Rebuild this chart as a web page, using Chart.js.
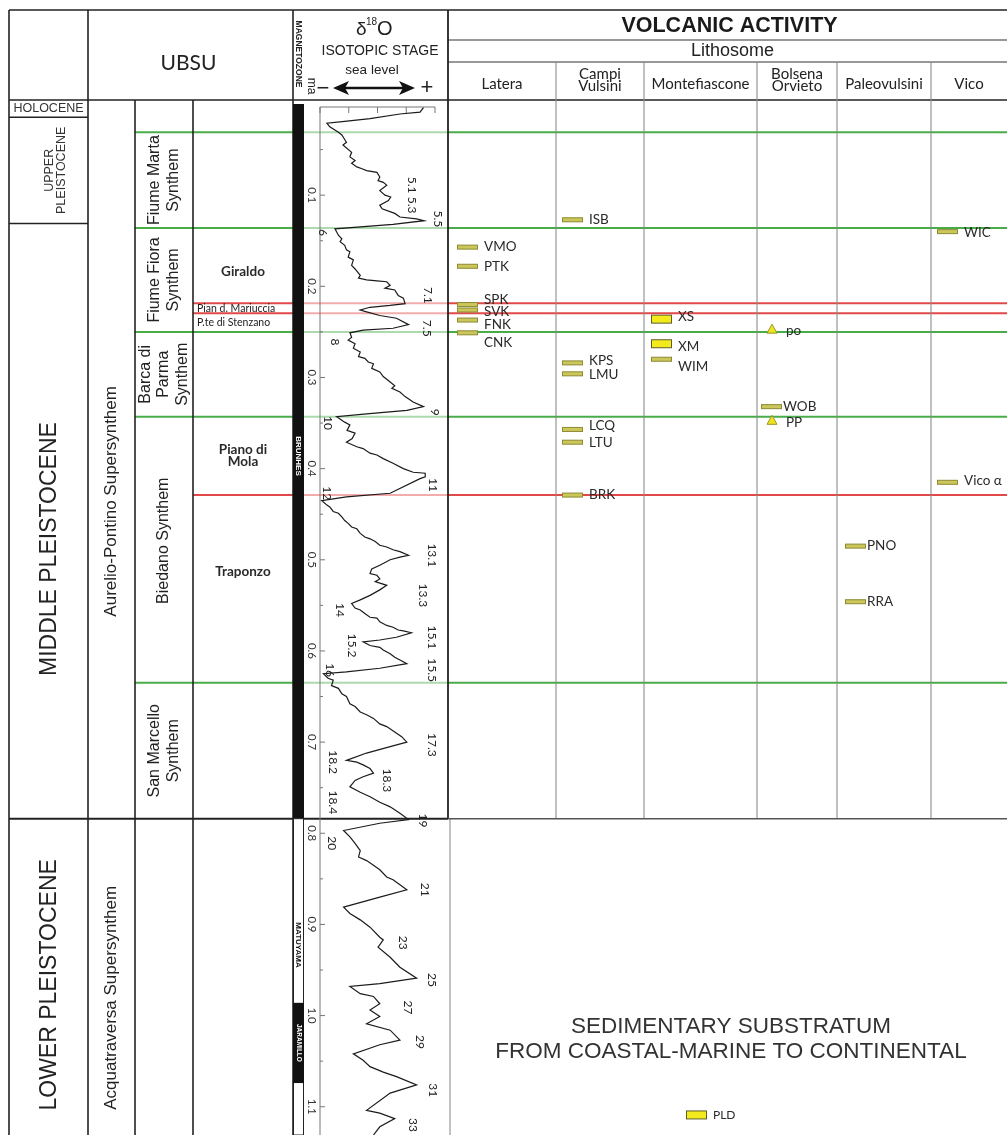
<!DOCTYPE html>
<html>
<head>
<meta charset="utf-8">
<script src="https://cdn.jsdelivr.net/npm/chart.js@4.4.1/dist/chart.umd.min.js"></script>
<style>
html, body { margin: 0; padding: 0; background: #fff; }
canvas { display: block; }
</style>
</head>
<body>
<canvas id="myChart" width="1007" height="1135"></canvas>
<script>
// delta 18O curve, age in Ma and value in permil
var isoAge = [0.004,0.009,0.011,0.016,0.019,0.021,0.025,0.031,0.034,0.042,0.045,0.053,0.058,0.062,0.065,0.069,0.071,0.073,0.075,0.080,0.084,0.086,0.089,0.095,0.100,0.102,0.106,0.111,0.115,0.120,0.124,0.126,0.128,0.132,0.137,
  0.144,0.148,0.151,0.155,0.160,0.162,0.168,0.171,0.177,0.181,0.188,0.191,0.193,0.194,0.195,0.199,0.202,0.204,0.210,0.213,0.219,0.221,0.223,0.226,0.228,0.232,0.235,0.242,0.246,0.248,0.251,
  0.256,0.259,0.263,0.268,0.272,0.277,0.279,0.283,0.285,0.290,0.294,0.299,0.305,0.309,0.312,0.316,0.321,0.327,0.332,0.336,0.340,0.343,
  0.349,0.352,0.358,0.361,0.367,0.371,0.376,0.378,0.383,0.385,0.389,0.394,0.400,0.404,0.405,0.409,0.411,0.427,0.431,0.435,
  0.440,0.442,0.447,0.449,0.453,0.457,0.460,0.464,0.466,0.471,0.475,0.477,0.480,0.484,0.486,0.489,0.491,0.495,0.497,0.500,0.506,0.510,0.515,0.517,0.521,0.524,0.528,0.533,0.539,0.544,0.548,
  0.553,0.555,0.559,0.563,0.564,0.568,0.572,0.574,0.577,0.578,0.580,0.585,0.588,0.590,0.594,0.596,0.599,0.603,0.607,0.610,0.614,0.619,0.623,0.625,
  0.630,0.632,0.638,0.641,0.647,0.650,0.658,0.661,0.667,0.670,0.674,0.680,0.683,0.689,0.694,0.700,0.705,0.712,0.720,0.722,0.725,0.729,0.734,0.738,0.742,0.749,0.755,0.760,0.766,0.771,0.778,0.785,
  0.789,0.797,0.804,0.811,0.819,0.826,0.830,0.835,0.840,0.848,0.851,0.855,0.862,0.870,0.881,0.888,0.895,0.903,0.914,0.917,0.925,0.936,0.947,0.959,0.965,0.968,0.976,0.979,0.987,0.994,1.001,1.009,1.016,1.027,1.032,1.042,1.049,1.056,1.062,1.067,1.076,1.085,1.104,1.107,1.113,1.122,1.131];
var isoD18O = [3.20,3.26,3.61,4.13,4.57,4.88,4.83,4.68,4.62,4.54,4.60,4.45,4.48,4.39,4.45,4.36,4.27,4.19,4.01,3.96,3.99,3.90,3.84,3.96,3.87,3.77,3.81,3.96,3.92,3.70,3.61,3.32,3.19,3.73,4.74,
  4.68,4.62,4.65,4.57,4.54,4.48,4.51,4.42,4.45,4.39,4.30,4.33,4.19,4.01,3.84,3.78,3.87,3.70,3.64,3.55,3.52,3.78,4.13,4.30,4.19,3.96,3.67,3.46,3.73,4.25,4.48,
  4.45,4.51,4.39,4.42,4.30,4.33,4.22,4.16,4.07,4.10,3.96,3.90,3.78,3.70,3.75,3.61,3.52,3.38,3.20,3.49,4.19,4.71,
  4.57,4.48,4.53,4.39,4.44,4.54,4.36,4.25,4.13,4.01,3.90,3.73,3.55,3.38,3.17,3.17,3.26,3.78,4.54,4.97,
  4.88,4.83,4.77,4.68,4.62,4.57,4.51,4.45,4.36,4.30,4.22,4.13,4.04,3.96,3.84,3.73,3.61,3.46,3.61,3.78,3.96,4.10,4.13,4.01,3.96,4.04,3.84,3.96,4.13,4.30,4.45,
  4.39,4.30,4.22,4.13,4.01,3.96,3.84,3.73,3.64,3.55,3.41,3.67,3.96,4.25,4.13,3.96,3.90,3.78,3.70,3.61,3.49,3.96,4.54,4.94,
  4.86,4.77,4.80,4.68,4.62,4.54,4.48,4.39,4.30,4.19,4.07,3.96,3.84,3.70,3.58,3.49,3.78,4.19,4.54,4.36,4.25,4.13,4.07,4.25,4.39,4.48,4.30,4.13,3.96,3.78,3.61,3.46,
  3.96,4.59,4.48,4.39,4.30,4.33,4.19,4.07,3.96,3.84,3.73,3.64,3.49,3.96,4.59,4.48,4.30,4.13,3.96,3.90,3.99,3.78,3.61,3.32,3.96,4.48,4.30,4.07,3.96,4.13,3.96,4.19,3.78,3.61,3.96,4.42,4.25,4.13,3.90,3.67,3.32,3.78,4.19,3.96,3.70,3.96,4.07];

// marine isotope stage labels
var stageNames = ['5.1','5.3','5.5','6','7.1','7.5','8','9','10','11','12','13.1','13.3','14','15.1','15.2','15.5','16','17.3','18.2','18.3','18.4','19','20','21','23','25','27','29','31','33'];
var stageAges = [0.089,0.111,0.126,0.141,0.210,0.246,0.261,0.338,0.350,0.418,0.427,0.495,0.539,0.555,0.585,0.594,0.621,0.621,0.703,0.722,0.742,0.766,0.786,0.811,0.862,0.920,0.961,0.991,1.029,1.082,1.120];

// age axis labels
var ageTicks = [0.1,0.2,0.3,0.4,0.5,0.6,0.7,0.8,0.9,1.0,1.1];
var ageTickLabels = ['0.1','0.2','0.3','0.4','0.5','0.6','0.7','0.8','0.9','1.0','1.1'];

// chronostratigraphy
var epochNames = ['HOLOCENE','UPPER\nPLEISTOCENE','MIDDLE PLEISTOCENE','LOWER PLEISTOCENE'];
var epochBase = [0.0145, 0.131, 0.784, 1.131];

// UBSU
var superNames = ['Aurelio-Pontino Supersynthem','Acquatraversa Supersynthem'];
var superBase = [0.784, 1.131];
var synthemNames = ['Fiume Marta\nSynthem','Fiume Fiora\nSynthem','Barca di\nParma\nSynthem','Biedano Synthem','San Marcello\nSynthem'];
var synthemTop = [0.031, 0.136, 0.250, 0.343, 0.635];
var synthemBase = [0.136, 0.250, 0.343, 0.635, 0.784];
var subNames = ['Giraldo','Pian d. Mariuccia','P.te di Stenzano','Piano di\nMola','Traponzo'];
var subTop = [0.136, 0.2185, 0.2295, 0.343, 0.429];
var subBase = [0.2185, 0.2295, 0.250, 0.429, 0.635];
var greenLines = [0.031, 0.136, 0.250, 0.343, 0.635];
var redLines = [0.2185, 0.2295, 0.429];

// magnetozones
var chronNames = ['BRUNHES','MATUYAMA','JARAMILLO'];
var chronTop = [0, 0.784, 0.986];
var chronBase = [0.784, 1.131, 1.074];
var chronNormal = [true, false, true];

// volcanic units
var lithosomes = ['Latera','Campi\nVulsini','Montefiascone','Bolsena\nOrvieto','Paleovulsini','Vico'];
var unitNames = ['ISB','VMO','PTK','SPK','SVK','FNK','CNK','XS','XM','WIM','KPS','LMU','po','WOB','PP','LCQ','LTU','BRK','WIC','Vico α','PNO','RRA','PLD'];
var unitLithosome = [1,0,0,0,0,0,0,2,2,2,1,1,3,3,3,1,1,1,5,5,4,4,2];
var unitAges = [0.127,0.157,0.178,0.220,0.226,0.237,0.251,0.236,0.263,0.280,0.284,0.296,0.247,0.332,0.347,0.357,0.371,0.429,0.140,0.415,0.485,0.546,1.109];
var unitKind = ['bar','bar','bar','bar','bar','bar','bar','box','box','bar','bar','bar','tri','bar','tri','bar','bar','bar','bar','bar','bar','bar','box'];

// page layout
var L = { left: 9, epochR: 88, superR: 135, synR: 193, subR: 293, magR: 304, boxL: 320, boxR: 435, volL: 448,
  right: 1007, top: 10, headB: 100, volRow1: 40, volRow2: 62, boxTop: 107,
  volEdges: [448, 556, 644, 757, 837, 931, 1007] };
var colPad = [9, 6, 7, 4, 8, 6];
var unitNudge = { SPK: -5, SVK: 2, FNK: 5, CNK: 10, XS: -2, XM: 3, WIM: 7, KPS: -2, LMU: 1, po: 1, PP: 2, LCQ: -4, WIC: 1, 'Vico α': -2 };
var unitXNudge = { WOB: -5, PNO: -5, RRA: -5 };
var stageLabelX = [412,412,438,323,428,427,335,435,328,433,327,432,423,340,432,352,432,330,432,333,387,333,423,332,425,403,432,408,420,433,413];
var epochNudge = [0, 0, 28, 8];
var superNudge = [42, 21];
var synthemNudge = [0, 0, 0, -9, 0];
var subNudge = [6, 0, 0, 0, -17];

var GREEN = 'rgb(72,172,72)';
var RED = 'rgb(226,72,72)';
var ARIAL = "'Liberation Sans', Arial, sans-serif";
var MYRIAD = "Lato, 'Open Sans', sans-serif";

function txt(ctx, s, x, y, font, rot, color, lh, align) {
  var lines = s.split('\n');
  ctx.save();
  ctx.translate(x, y);
  if (rot) ctx.rotate(rot);
  ctx.font = font;
  ctx.fillStyle = color || '#222';
  ctx.textAlign = align || 'center';
  ctx.textBaseline = 'middle';
  for (var i = 0; i < lines.length; i++) {
    ctx.fillText(lines[i], 0, (i - (lines.length - 1) / 2) * (lh || 0));
  }
  ctx.restore();
}

function hline(ctx, x1, x2, y, color, w) {
  ctx.beginPath();
  ctx.strokeStyle = color;
  ctx.lineWidth = w;
  ctx.moveTo(x1, y);
  ctx.lineTo(x2, y);
  ctx.stroke();
}

function vline(ctx, x, y1, y2, color, w) {
  ctx.beginPath();
  ctx.strokeStyle = color;
  ctx.lineWidth = w;
  ctx.moveTo(x, y1);
  ctx.lineTo(x, y2);
  ctx.stroke();
}

var tablePlugin = {
  id: 'stratTable',
  beforeDatasetsDraw: function (chart) {
    var ctx = chart.ctx;
    var ys = chart.scales.y, xs = chart.scales.x;
    var Y = function (a) { return ys.getPixelForValue(a); };
    var i;
    ctx.save();

    // unit boundaries
    greenLines.forEach(function (a) {
      var y = Y(a);
      hline(ctx, L.superR, L.subR, y, GREEN, 2);
      hline(ctx, L.subR, L.volL, y, 'rgba(72,172,72,0.45)', 2);
      hline(ctx, L.volL, L.right, y, GREEN, 2);
    });
    redLines.forEach(function (a) {
      var y = Y(a);
      hline(ctx, L.synR, L.subR, y, RED, 2);
      hline(ctx, L.subR, L.volL, y, 'rgba(226,72,72,0.45)', 2);
      hline(ctx, L.volL, L.right, y, RED, 2);
    });

    // frame
    var base = Y(epochBase[2]);
    hline(ctx, L.left, L.right, L.top, '#222', 1.5);
    hline(ctx, L.left, L.right, L.headB, '#222', 1.5);
    hline(ctx, L.volL, L.right, L.volRow1, '#333', 1.2);
    hline(ctx, L.volL, L.right, L.volRow2, '#333', 1.2);
    vline(ctx, L.left, L.top, 1135, '#222', 1.6);
    vline(ctx, L.epochR, L.top, 1135, '#222', 1.6);
    vline(ctx, L.superR, L.headB, 1135, '#222', 1.6);
    vline(ctx, L.synR, L.headB, 1135, '#222', 1.6);
    vline(ctx, L.subR, L.top, 1135, '#222', 1.6);
    vline(ctx, L.volL, L.top, base, '#222', 1.8);
    vline(ctx, L.volL + 2, base, 1135, '#999', 1.2);
    for (i = 1; i < L.volEdges.length - 1; i++) vline(ctx, L.volEdges[i], L.volRow2, base, '#8c8c8c', 1.1);
    for (i = 0; i < 2; i++) hline(ctx, L.left, L.epochR, Y(epochBase[i]), '#222', 1.5);
    hline(ctx, L.left, L.volL, base, '#222', 2);
    hline(ctx, L.volL, L.right, base, '#555', 1.5);

    // header
    txt(ctx, 'UBSU', (L.epochR + L.subR) / 2 - 2, 63, '21px ' + MYRIAD, 0, '#222');
    txt(ctx, 'MAGNETOZONE', 298.5, 54, 'bold 8.5px ' + ARIAL, Math.PI / 2, '#222');
    txt(ctx, 'ma', 311, 86, '12px ' + ARIAL, Math.PI / 2, '#222');
    ctx.fillStyle = '#222';
    ctx.textBaseline = 'alphabetic';
    ctx.textAlign = 'left';
    ctx.font = '19px ' + ARIAL;
    ctx.fillText('δ', 356, 35);
    ctx.font = '10px ' + ARIAL;
    ctx.fillText('18', 366, 25);
    ctx.font = '20px ' + ARIAL;
    ctx.fillText('O', 377, 35);
    txt(ctx, 'ISOTOPIC STAGE', 380, 51, '14px ' + ARIAL, 0, '#222');
    txt(ctx, 'sea level', 372, 70, '13.5px ' + ARIAL, 0, '#222');
    txt(ctx, '−', 323, 89, '22px ' + ARIAL, 0, '#222');
    txt(ctx, '+', 427, 88, '22px ' + ARIAL, 0, '#222');
    ctx.beginPath();
    ctx.strokeStyle = '#111';
    ctx.lineWidth = 2.5;
    ctx.moveTo(342, 88); ctx.lineTo(404, 88); ctx.stroke();
    ctx.beginPath();
    ctx.fillStyle = '#111';
    ctx.moveTo(333, 88); ctx.lineTo(349, 81); ctx.lineTo(345, 88); ctx.lineTo(349, 95); ctx.closePath(); ctx.fill();
    ctx.beginPath();
    ctx.moveTo(415, 88); ctx.lineTo(399, 81); ctx.lineTo(403, 88); ctx.lineTo(399, 95); ctx.closePath(); ctx.fill();

    txt(ctx, 'VOLCANIC ACTIVITY', (L.volL + L.right) / 2 + 2, 26, 'bold 21.5px ' + ARIAL, 0, '#1a1a1a');
    txt(ctx, 'Lithosome', (L.volL + L.right) / 2 + 5, 51, '18px ' + ARIAL, 0, '#222');
    for (i = 0; i < lithosomes.length; i++) {
      var cx = (L.volEdges[i] + L.volEdges[i + 1]) / 2;
      txt(ctx, lithosomes[i], cx, lithosomes[i].indexOf('\n') > 0 ? 80 : 84, '15px ' + MYRIAD, 0, '#222', 12);
    }

    // epochs
    for (i = 0; i < epochNames.length; i++) {
      var top = i === 0 ? L.headB : Y(epochBase[i - 1]);
      var cy = (top + Y(epochBase[i])) / 2 + epochNudge[i];
      if (i === 0) txt(ctx, epochNames[i], (L.left + L.epochR) / 2, cy, '12.5px ' + ARIAL, 0, '#333');
      else if (i === 1) txt(ctx, epochNames[i], 55.5, cy, '12.5px ' + ARIAL, -Math.PI / 2, '#333', 11.5);
      else txt(ctx, epochNames[i], 50, cy, '23px ' + ARIAL, -Math.PI / 2, '#222');
    }
    // supersynthems
    for (i = 0; i < superNames.length; i++) {
      var t = i === 0 ? L.headB : Y(superBase[i - 1]);
      txt(ctx, superNames[i], 111, (t + Y(superBase[i])) / 2 + superNudge[i], '17px ' + ARIAL, -Math.PI / 2, '#222');
    }
    // synthems
    for (i = 0; i < synthemNames.length; i++) {
      var sy = (Y(synthemTop[i]) + Y(synthemBase[i])) / 2 + synthemNudge[i];
      txt(ctx, synthemNames[i], (L.superR + L.synR) / 2, sy, '16px ' + ARIAL, -Math.PI / 2, '#222', 18.5);
    }
    // subsynthems
    for (i = 0; i < subNames.length; i++) {
      var my = (Y(subTop[i]) + Y(subBase[i])) / 2 + subNudge[i];
      if (i === 1 || i === 2) txt(ctx, subNames[i], L.synR + 4, my, '10.5px ' + MYRIAD, 0, '#222', 0, 'left');
      else txt(ctx, subNames[i], (L.synR + L.subR) / 2, my, 'bold 13.5px ' + MYRIAD, 0, '#2a2a2a', 12.5);
    }

    // magnetozones
    for (i = 0; i < chronNames.length; i++) {
      var y1 = Math.max(Y(chronTop[i]), L.headB + 1), y2 = Y(chronBase[i]);
      ctx.fillStyle = chronNormal[i] ? '#111' : '#fff';
      ctx.fillRect(L.subR, y1, L.magR - L.subR, y2 - y1);
      if (!chronNormal[i]) {
        ctx.strokeStyle = '#222'; ctx.lineWidth = 1;
        ctx.strokeRect(L.subR + 0.5, y1, L.magR - L.subR - 1, y2 - y1);
      }
    }
    txt(ctx, chronNames[0], 298.5, 456, 'bold 8px ' + ARIAL, Math.PI / 2, '#fff');
    txt(ctx, chronNames[1], 298.5, 945, 'bold 8px ' + ARIAL, Math.PI / 2, '#111');
    txt(ctx, chronNames[2], 298.5, (Y(chronTop[2]) + Y(chronBase[2])) / 2, 'bold 6.5px ' + ARIAL, Math.PI / 2, '#fff');

    // isotope box and axes
    hline(ctx, L.boxL, L.boxR, L.boxTop, '#777', 1);
    vline(ctx, L.boxL, L.boxTop, 1135, '#777', 1);
    xs.ticks.forEach(function (tk) {
      var x = xs.getPixelForValue(tk.value);
      vline(ctx, x, L.boxTop, L.boxTop + 6, '#777', 1);
    });
    for (var a = 0.05; a < 1.13; a += 0.05) {
      var ty = Y(a);
      hline(ctx, L.boxL, L.boxL + (Math.round(a * 100) % 10 === 0 ? 5 : 3), ty, '#777', 1);
    }
    for (i = 0; i < ageTicks.length; i++) {
      txt(ctx, ageTickLabels[i], 312, Y(ageTicks[i]), '11.5px ' + MYRIAD, Math.PI / 2, '#333');
    }

    // volcanic units
    for (i = 0; i < unitNames.length; i++) {
      var c = unitLithosome[i];
      var x0 = L.volEdges[c] + colPad[c];
      if (unitNames[i] === 'PLD') x0 = L.volEdges[c] + 42;
      var uy = Y(unitAges[i]);
      var k = unitKind[i];
      ctx.lineWidth = 1;
      if (k === 'bar') {
        ctx.fillStyle = '#cbc75a'; ctx.strokeStyle = '#8d8a33';
        ctx.fillRect(x0, uy - 2, 21, 4); ctx.strokeRect(x0 + 0.5, uy - 2, 20, 4);
      } else if (k === 'box') {
        ctx.fillStyle = '#f3ea1e'; ctx.strokeStyle = '#5f5d2a';
        ctx.fillRect(x0, uy - 4, 21, 8); ctx.strokeRect(x0 + 0.5, uy - 4, 20, 8);
      } else {
        ctx.beginPath();
        ctx.fillStyle = '#efe51f'; ctx.strokeStyle = '#9a942e';
        ctx.moveTo(x0 + 11, uy - 5); ctx.lineTo(x0 + 16, uy + 4); ctx.lineTo(x0 + 6, uy + 4); ctx.closePath();
        ctx.fill(); ctx.stroke();
      }
      var lx = (k === 'tri' ? x0 + 25 : x0 + 27) + (unitXNudge[unitNames[i]] || 0);
      var lfont = unitNames[i] === 'PLD' ? '12px ' + MYRIAD : '13.5px ' + MYRIAD;
      txt(ctx, unitNames[i], lx, uy + (unitNudge[unitNames[i]] || 0), lfont, 0, '#2a2a2a', 0, 'left');
    }

    // substratum
    txt(ctx, 'SEDIMENTARY SUBSTRATUM\nFROM COASTAL-MARINE TO CONTINENTAL', 731, 1039, '22.5px ' + ARIAL, 0, '#333', 25);
    ctx.restore();
  },
  afterDatasetsDraw: function (chart) {
    var ctx = chart.ctx, ys = chart.scales.y;
    for (var i = 0; i < stageNames.length; i++) {
      txt(ctx, stageNames[i], stageLabelX[i], ys.getPixelForValue(stageAges[i]), '12px ' + MYRIAD, Math.PI / 2, '#222');
    }
  }
};

var points = [];
for (var p = 0; p < Math.min(isoAge.length, isoD18O.length); p++) {
  points.push({ x: isoD18O[p], y: isoAge[p] });
}

var ctx = document.getElementById('myChart').getContext('2d');
var myChart = new Chart(ctx, {
  type: 'scatter',
  data: {
    datasets: [{
      label: 'δ18O',
      data: points,
      showLine: true,
      borderColor: '#1b1b1b',
      borderWidth: 1.2,
      pointRadius: 0,
      tension: 0
    }]
  },
  options: {
    responsive: false,
    animation: false,
    devicePixelRatio: 1,
    layout: { padding: { left: 320, right: 572, top: 104, bottom: 0 } },
    scales: {
      x: { type: 'linear', min: 3.0, max: 5.0, reverse: true, display: false, ticks: { stepSize: 0.5 } },
      y: { type: 'linear', min: 0, max: 1.131, reverse: true, display: false }
    },
    plugins: { legend: { display: false }, tooltip: { enabled: false } }
  },
  plugins: [tablePlugin]
});
</script>
</body>
</html>
